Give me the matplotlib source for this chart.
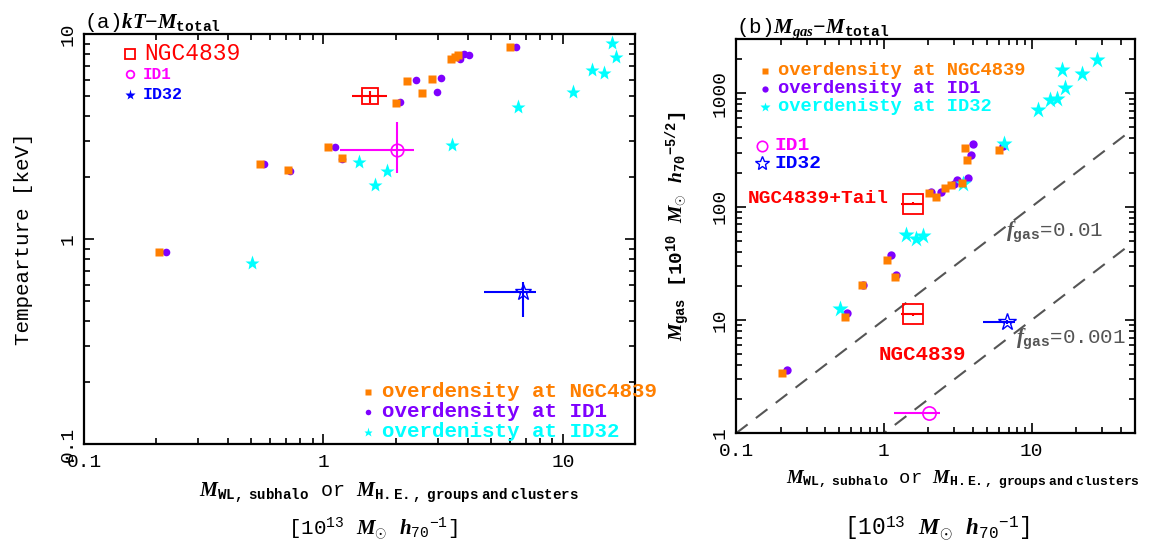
import numpy as np
import matplotlib
matplotlib.use('Agg')
import matplotlib.pyplot as plt
from matplotlib.ticker import FixedLocator, FixedFormatter, LogLocator, NullFormatter

plt.rcParams['font.family'] = ['Liberation Mono', 'DejaVu Sans']
plt.rcParams['mathtext.fontset'] = 'custom'
plt.rcParams['mathtext.rm'] = 'Liberation Mono'
plt.rcParams['mathtext.it'] = 'Liberation Serif:italic:bold'
plt.rcParams['mathtext.bf'] = 'Liberation Mono:bold'

# ---------------- data ----------------
# overdensity at NGC4839 (orange squares)
m_ngc = [0.206, 0.545, 0.71, 1.045, 1.19, 2.01, 2.24, 2.58, 2.85, 3.40, 3.53, 3.65, 6.02]
kt_ngc = [0.87, 2.34, 2.18, 2.82, 2.49, 4.64, 5.92, 5.19, 6.08, 7.61, 7.74, 7.92, 8.71]
mgas_ngc = [3.38, 10.6, 20.2, 34.0, 23.8, 132, 121, 147, 156, 161, 327, 260, 318]

# overdensity at ID1 (purple circles)
m_id1 = [0.221, 0.562, 0.725, 1.115, 1.20, 2.085, 2.44, 2.97, 3.10, 3.73, 3.855, 4.035, 6.36]
kt_id1 = [0.87, 2.32, 2.16, 2.83, 2.47, 4.66, 5.98, 5.22, 6.15, 7.61, 7.98, 7.92, 8.71]
mgas_id1 = [3.62, 11.5, 20.3, 37.5, 24.9, 136, 135, 160, 173, 180, 284, 359, 343]

# overdenisty at ID32 (cyan stars)
m_id32 = [0.502, 1.41, 1.64, 1.85, 3.44, 6.5, 11.0, 13.2, 14.85, 15.95, 16.7, 22.0, 27.8]
kt_id32 = [0.764, 2.39, 1.83, 2.16, 2.88, 4.44, 5.22, 6.67, 6.45, 9.11, 7.78, np.nan, np.nan]
mgas_id32 = [12.6, 55.9, 51.5, 55.1, 160, 355, 713, 867, 886, 1607, 1122, 1472, 1967]

# individual objects: mass, mass range, kT, kT range, Mgas
ngc_m, ngc_mlo, ngc_mhi = 1.57, 1.31, 1.85
ngc_kt, ngc_ktlo, ngc_kthi = 5.0, 4.6, 5.3
ngc_tail_mgas, ngc_tail_lo, ngc_tail_hi = 106, 103, 109
ngc_mgas, ngc_mgas_lo, ngc_mgas_hi = 11.2, 10.9, 11.5

id1_m, id1_mlo, id1_mhi = 2.03, 1.17, 2.39
id1_kt, id1_ktlo, id1_kthi = 2.71, 2.11, 3.72
id1_mgas, id1_mgas_lo, id1_mgas_hi = 1.50, 1.47, 1.53

id32_m, id32_mlo, id32_mhi = 6.81, 4.70, 7.75
id32_kt, id32_ktlo, id32_kthi = 0.55, 0.415, 0.617
id32_mgas, id32_mgas_lo, id32_mgas_hi = 9.6, 9.3, 9.9

fgas_values = [0.01, 0.001]
fgas_mrange = [0.1, 45.0]

x_ticks = [0.1, 1, 10]
x_ticklabels = ['0.1', '1', '10']
yL_ticks = [0.1, 1, 10]
yL_ticklabels = ['0.1', '1', '10']
yR_ticks = [1, 10, 100, 1000]
yR_ticklabels = ['1', '10', '100', '1000']

ORANGE = '#ff7f00'
PURPLE = '#7f00ff'
CYAN = '#00ffff'
RED = '#ff0000'
MAGENTA = '#ff00ff'
BLUE = '#0000ff'
GRAY = '#555555'

fig = plt.figure(figsize=(11.54, 5.48), dpi=100)
axL = fig.add_axes([0.0728, 0.1898, 0.4775, 0.7476])
axR = fig.add_axes([0.6378, 0.2093, 0.3458, 0.7190])


def style(ax, yt, ytl):
    ax.set_xscale('log')
    ax.set_yscale('log')
    for s in ax.spines.values():
        s.set_linewidth(1.6)
    ax.xaxis.set_major_locator(FixedLocator(x_ticks))
    ax.xaxis.set_major_formatter(FixedFormatter(x_ticklabels))
    ax.yaxis.set_major_locator(FixedLocator(yt))
    ax.yaxis.set_major_formatter(FixedFormatter(ytl))
    ax.xaxis.set_minor_locator(LogLocator(base=10, subs=np.arange(2, 10)))
    ax.yaxis.set_minor_locator(LogLocator(base=10, subs=np.arange(2, 10)))
    ax.xaxis.set_minor_formatter(NullFormatter())
    ax.yaxis.set_minor_formatter(NullFormatter())
    ax.tick_params(which='both', direction='in', top=True, right=True,
                   width=1.2, labelsize=14)
    ax.tick_params(which='major', length=7.5)
    ax.tick_params(which='minor', length=4)
    ax.tick_params(axis='x', pad=7)
    ax.tick_params(axis='y', pad=5, labelrotation=90)
    for lab in ax.get_yticklabels():
        lab.set_va('center')


# ---------------- left panel ----------------
style(axL, yL_ticks, yL_ticklabels)
axL.set_xlim(0.1, 20)
axL.set_ylim(0.1, 10)

axL.plot(m_id1, kt_id1, 'o', color=PURPLE, ms=5.5, mec='none', zorder=3)
axL.plot(m_id32, kt_id32, '*', color=CYAN, ms=11, mec='none', zorder=4)
axL.plot(m_ngc, kt_ngc, 's', color=ORANGE, ms=5.5, mec='none', zorder=5)

axL.errorbar([ngc_m], [ngc_kt],
             xerr=[[ngc_m - ngc_mlo], [ngc_mhi - ngc_m]],
             yerr=[[ngc_kt - ngc_ktlo], [ngc_kthi - ngc_kt]],
             fmt='s', ms=12, mfc='none', mec=RED, mew=1.3, color=RED,
             elinewidth=1.5, capsize=0, zorder=6)
axL.errorbar([id1_m], [id1_kt],
             xerr=[[id1_m - id1_mlo], [id1_mhi - id1_m]],
             yerr=[[id1_kt - id1_ktlo], [id1_kthi - id1_kt]],
             fmt='o', ms=9, mfc='none', mec=MAGENTA, mew=1.2, color=MAGENTA,
             elinewidth=1.5, capsize=0, zorder=6)
axL.errorbar([id32_m], [id32_kt],
             xerr=[[id32_m - id32_mlo], [id32_mhi - id32_m]],
             yerr=[[id32_kt - id32_ktlo], [id32_kthi - id32_kt]],
             fmt='*', ms=12, mfc='none', mec=BLUE, mew=1.0, color=BLUE,
             elinewidth=1.5, capsize=0, zorder=6)

# legend (top-left)
tL = axL.transAxes
axL.plot([0.0827], [0.952], 's', ms=6.5, mfc='none', mec=RED, mew=1.3, transform=tL, clip_on=False)
axL.text(0.109, 0.952, 'NGC4839', color=RED, fontsize=16.5, va='center', transform=tL)
axL.plot([0.0827], [0.903], 'o', ms=5.5, mfc='none', mec=MAGENTA, mew=1.3, transform=tL, clip_on=False)
axL.text(0.106, 0.903, 'ID1', color=MAGENTA, fontsize=11.5, fontweight='bold', va='center', transform=tL)
axL.plot([0.0827], [0.853], '*', ms=8, color=BLUE, mec='none', transform=tL, clip_on=False)
axL.text(0.106, 0.853, 'ID32', color=BLUE, fontsize=12, fontweight='bold', va='center', transform=tL)

# legend (bottom-right)
axL.plot([0.516], [0.1277], 's', ms=4, color=ORANGE, mec='none', transform=tL, clip_on=False)
axL.text(0.5414, 0.1277, 'overdensity at NGC4839', color=ORANGE, fontsize=15,
         fontweight='bold', va='center', transform=tL)
axL.plot([0.516], [0.079], 'o', ms=4, color=PURPLE, mec='none', transform=tL, clip_on=False)
axL.text(0.5414, 0.079, 'overdensity at ID1', color=PURPLE, fontsize=15,
         fontweight='bold', va='center', transform=tL)
axL.plot([0.516], [0.030], '*', ms=6.5, color=CYAN, mec='none', transform=tL, clip_on=False)
axL.text(0.5414, 0.030, 'overdenisty at ID32', color=CYAN, fontsize=15,
         fontweight='bold', va='center', transform=tL)

axL.text(0.0, 1.015, r'(a)$kT{-}M_{\mathbf{total}}$', fontsize=15,
         transform=tL, va='baseline', ha='left')

# ---------------- right panel ----------------
style(axR, yR_ticks, yR_ticklabels)
axR.set_xlim(0.1, 50)
axR.set_ylim(1, 3000)

mline = np.array(fgas_mrange)
for f in fgas_values:
    axR.plot(mline, f * 1000.0 * mline, color=GRAY, lw=1.5, ls=(0, (7, 5)), zorder=2)

axR.plot(m_id1, mgas_id1, 'o', color=PURPLE, ms=6, mec='none', zorder=3)
axR.plot(m_id32, mgas_id32, '*', color=CYAN, ms=12.5, mec='none', zorder=4)
axR.plot(m_ngc, mgas_ngc, 's', color=ORANGE, ms=6.3, mec='none', zorder=5)

for yv, ylo, yhi in [(ngc_tail_mgas, ngc_tail_lo, ngc_tail_hi), (ngc_mgas, ngc_mgas_lo, ngc_mgas_hi)]:
    axR.errorbar([ngc_m], [yv],
                 xerr=[[ngc_m - ngc_mlo], [ngc_mhi - ngc_m]],
                 yerr=[[yv - ylo], [yhi - yv]],
                 fmt='s', ms=14, mfc='none', mec=RED, mew=1.3, color=RED,
                 elinewidth=1.5, capsize=0, zorder=6)
axR.errorbar([id1_m], [id1_mgas],
             xerr=[[id1_m - id1_mlo], [id1_mhi - id1_m]],
             yerr=[[id1_mgas - id1_mgas_lo], [id1_mgas_hi - id1_mgas]],
             fmt='o', ms=9.5, mfc='none', mec=MAGENTA, mew=1.2, color=MAGENTA,
             elinewidth=1.5, capsize=0, zorder=6)
axR.errorbar([id32_m], [id32_mgas],
             xerr=[[id32_m - id32_mlo], [id32_mhi - id32_m]],
             yerr=[[id32_mgas - id32_mgas_lo], [id32_mgas_hi - id32_mgas]],
             fmt='*', ms=13, mfc='none', mec=BLUE, mew=1.0, color=BLUE,
             elinewidth=1.5, capsize=0, zorder=6)

tR = axR.transAxes
axR.plot([0.0734], [0.920], 's', ms=4.5, color=ORANGE, mec='none', transform=tR, clip_on=False)
axR.text(0.1045, 0.920, 'overdensity at NGC4839', color=ORANGE, fontsize=13.5,
         fontweight='bold', va='center', transform=tR)
axR.plot([0.0734], [0.874], 'o', ms=4.5, color=PURPLE, mec='none', transform=tR, clip_on=False)
axR.text(0.1045, 0.874, 'overdensity at ID1', color=PURPLE, fontsize=13.5,
         fontweight='bold', va='center', transform=tR)
axR.plot([0.0734], [0.829], '*', ms=7, color=CYAN, mec='none', transform=tR, clip_on=False)
axR.text(0.1045, 0.829, 'overdenisty at ID32', color=CYAN, fontsize=13.5,
         fontweight='bold', va='center', transform=tR)

axR.plot([0.0652], [0.730], 'o', ms=7.5, mfc='none', mec=MAGENTA, mew=1.2, transform=tR, clip_on=False)
axR.text(0.0952, 0.730, 'ID1', color=MAGENTA, fontsize=14, fontweight='bold', va='center', transform=tR)
axR.plot([0.0652], [0.686], '*', ms=10, mfc='none', mec=BLUE, mew=1.0, transform=tR, clip_on=False)
axR.text(0.0952, 0.686, 'ID32', color=BLUE, fontsize=14, fontweight='bold', va='center', transform=tR)

axR.text(1.086, 118, 'NGC4839+Tail', color=RED, fontsize=14, fontweight='bold',
         ha='right', va='center')
axR.text(1.814, 5.0, 'NGC4839', color=RED, fontsize=15, fontweight='bold',
         ha='center', va='center')

axR.text(6.73, 59.6, r'$f_{\mathbf{gas}}$=0.01', color=GRAY, fontsize=15, va='center')
axR.text(7.78, 6.8, r'$f_{\mathbf{gas}}$=0.001', color=GRAY, fontsize=15, va='center')

axR.text(0.0, 1.015, r'(b)$M_{gas}{-}M_{\mathbf{total}}$', fontsize=15,
         transform=tR, va='baseline', ha='left')

# ---------------- axis labels ----------------
fig.text(0.337, 0.100, r'$M_{\mathbf{WL,\ subhalo}}$ or $M_{\mathbf{H.E.,\ groups\ and\ clusters}}$',
         fontsize=14.5, ha='center', va='center')
fig.text(0.3232, 0.035, r'[10$^{13}$ $M_{\odot}$ $h_{70}{}^{-1}$]',
         fontsize=15, ha='center', va='center')
fig.text(0.8345, 0.124, r'$M_{\mathbf{WL,\ subhalo}}$ or $M_{\mathbf{H.E.,\ groups\ and\ clusters}}$',
         fontsize=13.5, ha='center', va='center')
fig.text(0.812, 0.036, r'[10$^{13}$ $M_{\odot}$ $h_{70}{}^{-1}$]',
         fontsize=16.5, ha='center', va='center')

fig.text(0.020, 0.564, 'Tempearture [keV]', fontsize=15, rotation=90,
         ha='center', va='center')
fig.text(0.5875, 0.5876, r'$M_{\mathbf{gas}}$ [10$^{\mathbf{10}}$ $M_{\odot}$ $h_{\mathbf{70}}{}^{\mathbf{-5/2}}$]',
         fontsize=14, fontweight='bold', rotation=90, ha='center', va='center')

fig.savefig('out.png', dpi=100)
